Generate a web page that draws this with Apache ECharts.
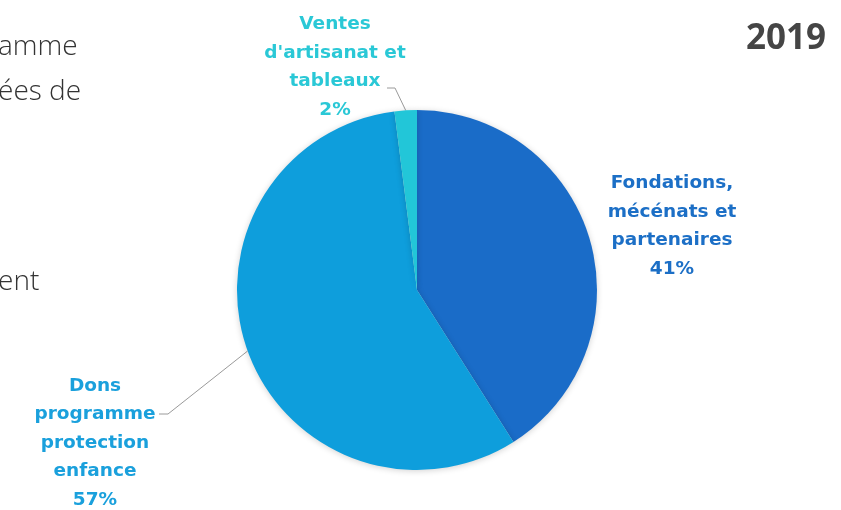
<!DOCTYPE html>
<html>
<head>
<meta charset="utf-8">
<script src="https://cdn.jsdelivr.net/npm/echarts@6/dist/echarts.min.js"></script>
<style>
  html, body { margin: 0; padding: 0; background: #fff; }
  #main { width: 841px; height: 510px; }
</style>
</head>
<body>
<div id="main"></div>
<script>
// data
var categories = ['Fondations,\nmécénats et\npartenaires', 'Dons\nprogramme\nprotection\nenfance', 'Ventes\nd\'artisanat et\ntableaux'];
var shares = [41, 57, 2];
var colors = ['#1A6CC8', '#0E9EDC', '#22C6D8'];
var labelColors = ['#1C6FC6', '#1AA0DC', '#2AC8D6'];
var year = '2019';
// label anchor points (text centres) and leader line bends
var labelPos = [[672, 226], [95, 443], [335, 67]];
var leaderEnds = [null, [[168, 414], [159, 414]], [[395, 88], [387, 88]]];

var chart = echarts.init(document.getElementById('main'));

var option = {
    backgroundColor: '#fff',
    animation: false,
    graphic: [
        { type: 'text', right: 15, top: 22, style: { text: year, fontFamily: 'Open Sans', fontWeight: 'bold', fontSize: 35, fill: '#454545' } },
        { type: 'text', left: -2, top: 33, style: { text: 'amme', fontFamily: 'Open Sans', fontWeight: 300, fontSize: 28, fill: '#333' } },
        { type: 'text', left: -2, top: 78, style: { text: 'ées de', fontFamily: 'Open Sans', fontWeight: 300, fontSize: 28, fill: '#333' } },
        { type: 'text', left: -2, top: 268, style: { text: 'ent', fontFamily: 'Open Sans', fontWeight: 300, fontSize: 28, fill: '#333' } }
    ],
    series: [{
        type: 'pie',
        center: [417, 290],
        radius: [0, 180],
        startAngle: 90,
        clockwise: true,
        data: categories.map(function (name, i) {
            return {
                name: name,
                value: shares[i],
                itemStyle: { color: colors[i] },
                label: { color: labelColors[i] },
                labelLine: { show: i !== 0 }
            };
        }),
        itemStyle: {
            shadowBlur: 6,
            shadowColor: 'rgba(0,0,0,0.18)',
            shadowOffsetY: 1
        },
        label: {
            show: true,
            formatter: '{b}\n{c}%',
            fontFamily: 'DejaVu Sans',
            fontWeight: 'bold',
            fontSize: 18.5,
            lineHeight: 28.5,
            align: 'center'
        },
        labelLine: {
            show: true,
            lineStyle: { color: '#9a9a9a', width: 1 }
        },
        labelLayout: function (params) {
            var i = params.dataIndex;
            var p = labelPos[i];
            var out = {
                x: p[0],
                y: p[1],
                align: 'center',
                verticalAlign: 'middle'
            };
            if (leaderEnds[i] && params.labelLinePoints) {
                out.labelLinePoints = [params.labelLinePoints[0]].concat(leaderEnds[i]);
            }
            return out;
        }
    }]
};
chart.setOption(option);
</script>
</body>
</html>
